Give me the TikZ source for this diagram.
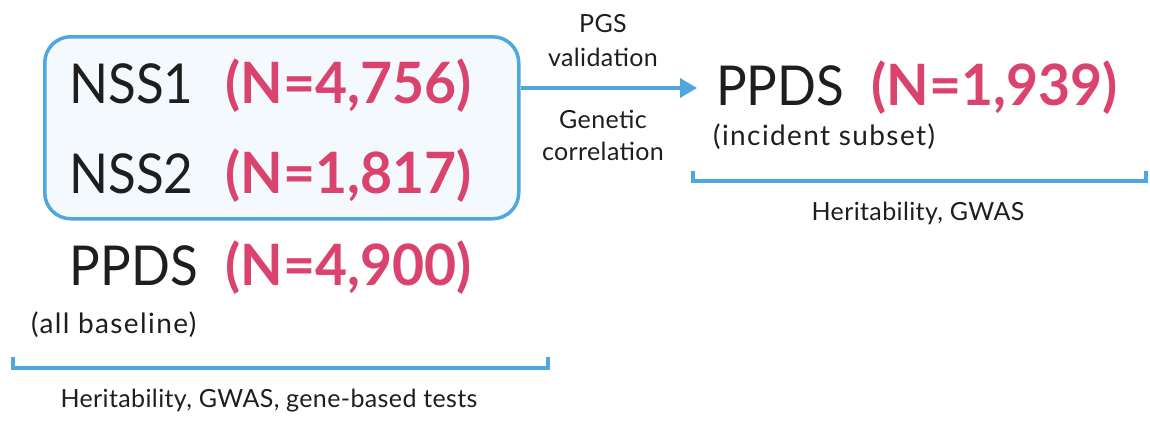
\documentclass[tikz,border=0pt]{standalone}
\usepackage{fontspec}
\setmainfont{Lato}
\newfontfamily\numfont[FakeStretch=0.97]{Lato}
\newfontfamily\bigfont[FakeStretch=0.93]{Lato}
\usetikzlibrary{arrows.meta,calc}
\definecolor{bblue}{HTML}{4EA8DE}
\definecolor{bfill}{HTML}{F4F9FD}
\definecolor{npink}{HTML}{D9436E}
\definecolor{tblack}{HTML}{1E1E1E}
\tikzset{
  big/.style={inner sep=0pt, text=tblack, font=\bigfont\fontsize{55}{55}\selectfont},
  num/.style={inner sep=0pt, text=npink, font=\numfont\fontsize{57}{57}\selectfont\bfseries},
  sub/.style={inner sep=0pt, text=tblack, font=\fontsize{28}{28}\selectfont\addfontfeature{LetterSpace=5}},
  small/.style={inner sep=0pt, text=tblack, font=\fontsize{25}{32}\selectfont\addfontfeature{LetterSpace=1.5}, align=center},
  bline/.style={draw=bblue, line width=3.2pt},
}
\begin{document}
\begin{tikzpicture}[x=1pt,y=-1pt]
\useasboundingbox (0,0) rectangle (1150,423);
% box
\node[draw=bblue, fill=bfill, line width=3.5pt, rounded corners=26pt,
      minimum width=474pt, minimum height=182pt, anchor=north west] (box) at (43,35) {};
% left rows
\node[big, anchor=base west] (nss1) at (69,103) {NSS1};
\node[num, anchor=base east] (n1) at (472,103) {(N=4,756)};
\node[big, anchor=base west] (nss2) at (69,193) {NSS2};
\node[num, anchor=base east] (n2) at (472,193) {(N=1,817)};
\node[big, anchor=base east] (ppds1) at (198,285) {PPDS};
\node[num, anchor=base east] (n3) at (472,285) {(N=4,900)};
\node[sub, anchor=base west] (allb) at (31,333) {(all baseline)};
% left bracket
\coordinate (lb1) at (13,357);
\coordinate (lb2) at (548,357);
\draw[bline] (lb1) -- ++(0,11) -- ($(lb2)+(0,11)$) -- (lb2);
\node[small, anchor=base] (lh) at (269,407) {Heritability, GWAS, gene-based tests};
% right
\node[big, anchor=base west] (ppds2) at (716,105) {PPDS};
\node[num, anchor=base east] (n4) at (1118,105) {(N=1,939)};
\node[sub, anchor=base west] (inc) at (713,145) {(incident subset)};
\coordinate (rb1) at (693,171);
\coordinate (rb2) at (1146,171);
\draw[bline] (rb1) -- ++(0,10) -- ($(rb2)+(0,10)$) -- (rb2);
\node[small, anchor=base] (rh) at (918,220) {Heritability, GWAS};
% arrow
\coordinate (tip) at (697,88);
\draw[draw=bblue, line width=3.5pt, -{Triangle[length=17pt,width=19pt]}]
  (box.east |- tip) -- (tip);
\node[small, anchor=north] (pgs) at (603,14) {PGS\\[2pt]validation};
\node[small, anchor=north] (gc) at (603,110) {Genetic\\correlation};
\end{tikzpicture}
\end{document}
